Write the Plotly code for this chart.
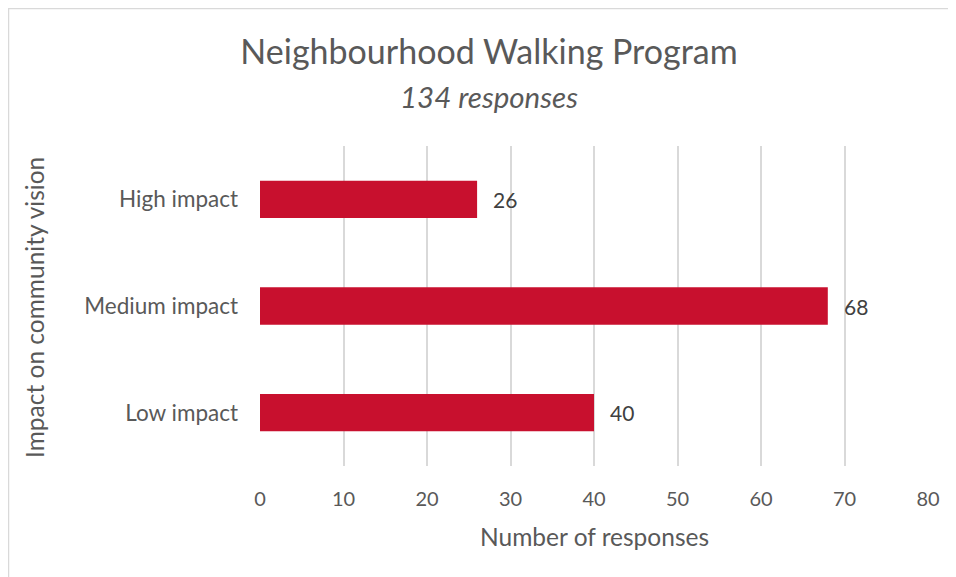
import plotly.graph_objects as go

categories = ["Low impact", "Medium impact", "High impact"]
values = [40, 68, 26]
x_ticks = [0, 10, 20, 30, 40, 50, 60, 70, 80]

title_text = "Neighbourhood Walking Program"
subtitle_text = "134 responses"
x_title = "Number of responses"
y_title = "Impact on community vision"

FONT = "Lato"
W, H = 956, 577
OFF = 8  # page body margin offset
# plot area in screenshot pixels
PL, PR, PT, PB = 260, 928, 146, 466
L, T = PL - OFF, PT - OFF
PW, PH = PR - PL, PB - PT
R, B = W - L - PW, H - T - PH

def px_x(px):
    return (px - PL) / PW

def px_y(py):
    return (PB - py) / PH

fig = go.Figure()
fig.add_trace(go.Bar(
    y=categories, x=values, orientation="h",
    marker=dict(color="#C8102E", line=dict(width=0)),
    width=0.35, hoverinfo="x+y",
))

annotations = []
for c, v in zip(categories, values):
    annotations.append(dict(x=v, y=c, xref="x", yref="y", text=str(v), showarrow=False,
                            xanchor="left", xshift=14, font=dict(family=FONT, size=21, color="#404040")))

annotations.append(dict(x=px_x(489), y=px_y(96), xref="paper", yref="paper", text="<i>" + subtitle_text + "</i>",
                        showarrow=False, xanchor="center", yanchor="middle",
                        font=dict(family=FONT, size=29.5, color="#595959")))
annotations.append(dict(x=px_x(594), y=px_y(536), xref="paper", yref="paper", text=x_title,
                        showarrow=False, xanchor="center", yanchor="middle",
                        font=dict(family=FONT, size=24.5, color="#595959")))
annotations.append(dict(x=px_x(34), y=px_y(308), xref="paper", yref="paper", text=y_title,
                        showarrow=False, xanchor="center", yanchor="middle", textangle=-90,
                        font=dict(family=FONT, size=24.5, color="#595959")))

shapes = [dict(type="path", xref="paper", yref="paper",
               path=f"M {px_x(8.5)} {px_y(620)} L {px_x(8.5)} {px_y(8.5)} L {px_x(1000)} {px_y(8.5)}",
               line=dict(color="#D9D9D9", width=1.5))]

fig.update_layout(
    width=W, height=H,
    margin=dict(l=L, r=R, t=T, b=B),
    paper_bgcolor="white", plot_bgcolor="white",
    showlegend=False,
    title=dict(text=title_text, x=(489 - OFF) / W, xanchor="center", y=1 - (52 - OFF) / H, yanchor="middle",
               xref="container", yref="container",
               font=dict(family=FONT, size=34, color="#595959")),
    annotations=annotations,
    shapes=shapes,
)
fig.update_xaxes(range=[0, 80], tickvals=x_ticks, showgrid=True, gridcolor="#D9D9D9", gridwidth=1.5,
                 zeroline=False, showline=False, ticks="", ticklabelstandoff=19,
                 tickfont=dict(family=FONT, size=20, color="#595959"), fixedrange=True)
fig.update_yaxes(categoryorder="array", categoryarray=categories, range=[-0.5, 2.5],
                 showgrid=False, zeroline=False, showline=False, ticks="", ticklabelstandoff=21,
                 tickfont=dict(family=FONT, size=22.5, color="#595959"), fixedrange=True)

fig.write_html("out.html")
